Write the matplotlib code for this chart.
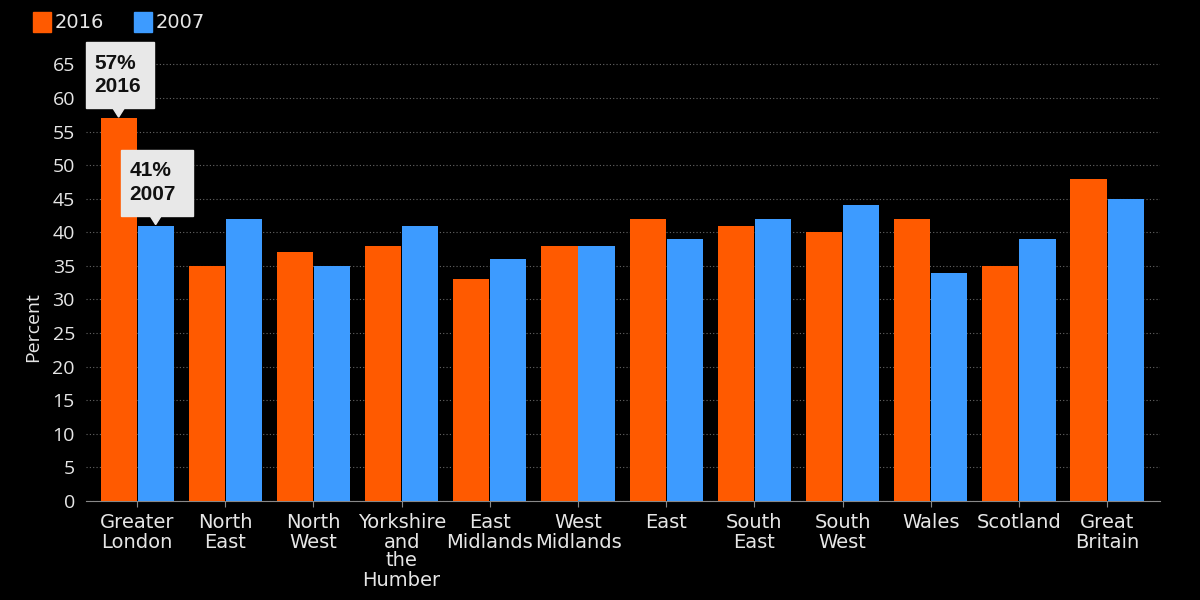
import matplotlib
matplotlib.use("Agg")
import matplotlib.pyplot as plt
from matplotlib.patches import Rectangle, Polygon
import numpy as np

categories = ["Greater\nLondon", "North\nEast", "North\nWest", "Yorkshire\nand\nthe\nHumber",
              "East\nMidlands", "West\nMidlands", "East", "South\nEast", "South\nWest",
              "Wales", "Scotland", "Great\nBritain"]
values_2016 = [57, 35, 37, 38, 33, 38, 42, 41, 40, 42, 35, 48]
values_2007 = [41, 42, 35, 41, 36, 38, 39, 42, 44, 34, 39, 45]
series_names = ["2016", "2007"]
yticks = list(range(0, 70, 5))

c16 = "#FF5A00"
c07 = "#3D9BFF"
txt = "#E6E6E6"

fig = plt.figure(figsize=(12, 6), dpi=100, facecolor="black")
ax = fig.add_axes([86/1200, 1-501/600, (1160-86)/1200, (501-59)/600])
ax.set_facecolor("black")

x = np.arange(len(categories))
w = 0.41
ax.bar(x - w/2 - 0.005, values_2016, width=w, color=c16, zorder=3)
ax.bar(x + w/2 + 0.005, values_2007, width=w, color=c07, zorder=3)

ax.set_xlim(-0.58, 11.6)
ax.set_ylim(0, 65.8)
ax.set_yticks(yticks)
ax.set_yticklabels([str(v) for v in yticks], fontsize=14, color=txt, family="Open Sans")
ax.set_xticks(x)
ax.set_xticklabels(categories, fontsize=14, color=txt, family="DejaVu Sans", linespacing=1.0)
ax.tick_params(axis="y", length=0, pad=8)
ax.tick_params(axis="x", length=4, color="#888888", pad=5)
for s in ["top", "right", "left"]:
    ax.spines[s].set_visible(False)
ax.spines["bottom"].set_color("#888888")
ax.yaxis.grid(True, linestyle=(0, (1, 2)), color="#666666", linewidth=0.8, zorder=0)
ax.set_axisbelow(True)
ax.set_ylabel("Percent", fontsize=14, color=txt, family="Open Sans")
ax.yaxis.set_label_coords(-0.041, 0.394)

# legend
for i, (name, col) in enumerate(zip(series_names, [c16, c07])):
    x0 = 33 + i*101
    fig.patches.append(Rectangle((x0/1200, 1-32/600), 18/1200, 20/600, color=col, transform=fig.transFigure))
    fig.text((x0+22)/1200, 1-23/600, name, fontsize=14, color=txt, va="center", ha="left", family="DejaVu Sans")

# annotations
def callout(xv, yv, label, bw=70, bh=66, offs=-18):
    px, py = ax.transData.transform((xv, yv))
    tip_y = py + 1
    box_bottom = tip_y + 9
    left = px + offs
    fig.patches.append(Rectangle((left/1200, box_bottom/600), bw/1200, bh/600,
                                 color="#E8E8E8", transform=fig.transFigure, zorder=10))
    fig.patches.append(Polygon([((px-6)/1200, (box_bottom+0.5)/600), ((px+6)/1200, (box_bottom+0.5)/600),
                                (px/1200, tip_y/600)], closed=True, color="#E8E8E8",
                               transform=fig.transFigure, zorder=10))
    fig.text((left+9)/1200, (box_bottom+bh/2)/600, label, fontsize=15, fontweight="bold",
             color="#111111", va="center", ha="left", family="Liberation Sans",
             linespacing=1.3, zorder=11)

fig.canvas.draw()
callout(x[0] - w/2 - 0.005, values_2016[0], f"{values_2016[0]}%\n{series_names[0]}", bw=68, offs=-33)
callout(x[0] + w/2 + 0.005, values_2007[0], f"{values_2007[0]}%\n{series_names[1]}", bw=72, offs=-35)

fig.savefig("out.png", dpi=100, facecolor="black")
